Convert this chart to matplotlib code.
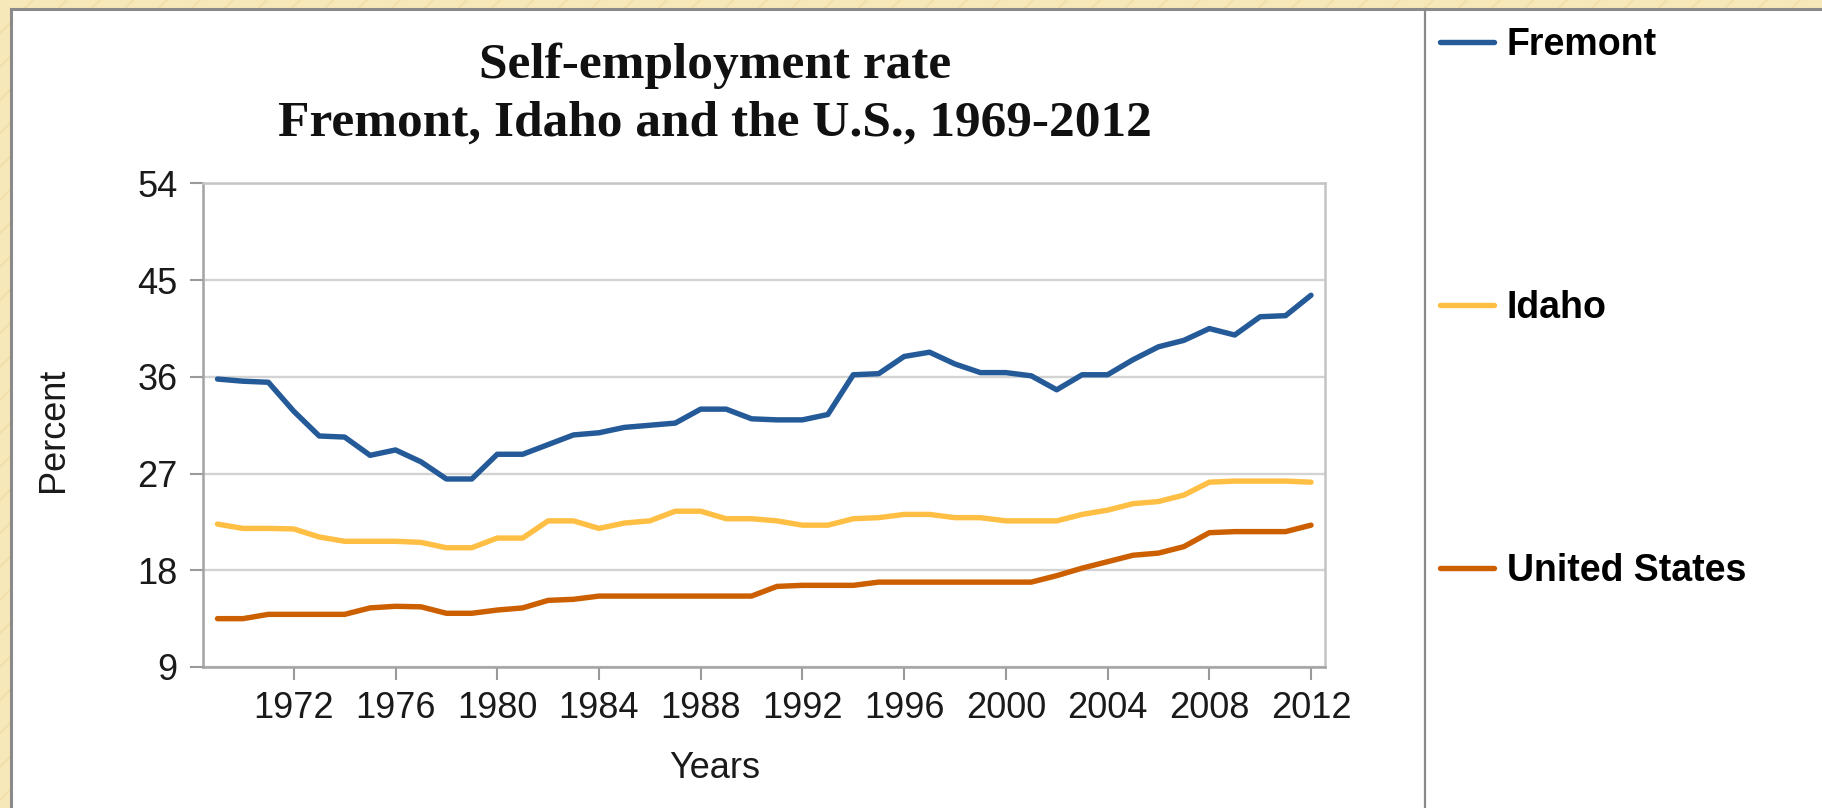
#!/usr/bin/python
# -*- coding: utf-8 -*-
# Self-employment rate, Fremont, Idaho and the U.S., 1969-2012

import numpy as np
import matplotlib as mpl
mpl.use('Agg')
from matplotlib import pyplot as plt
from matplotlib.patches import Rectangle
from matplotlib.lines import Line2D

# data (percent)
years = list(range(1969, 2013))

fremont = [35.8, 35.6, 35.5, 32.8, 30.5, 30.4, 28.7, 29.2, 28.1, 26.5,
           26.5, 28.8, 28.8, 29.7, 30.6, 30.8, 31.3, 31.5, 31.7, 33.0,
           33.0, 32.1, 32.0, 32.0, 32.5, 36.2, 36.3, 37.9, 38.3, 37.2,
           36.4, 36.4, 36.1, 34.8, 36.2, 36.2, 37.6, 38.8, 39.4, 40.5,
           39.9, 41.6, 41.7, 43.6]

idaho = [22.3, 21.9, 21.9, 21.85, 21.1, 20.7, 20.7, 20.7, 20.6, 20.1,
         20.1, 21.0, 21.0, 22.6, 22.6, 21.9, 22.4, 22.6, 23.5, 23.5,
         22.8, 22.8, 22.6, 22.2, 22.2, 22.8, 22.9, 23.2, 23.2, 22.9,
         22.9, 22.6, 22.6, 22.6, 23.2, 23.6, 24.2, 24.4, 25.0, 26.2,
         26.3, 26.3, 26.3, 26.2]

united_states = [13.5, 13.5, 13.9, 13.9, 13.9, 13.9, 14.5, 14.65, 14.6, 14.0,
                 14.0, 14.3, 14.5, 15.2, 15.3, 15.6, 15.6, 15.6, 15.6, 15.6,
                 15.6, 15.6, 16.5, 16.6, 16.6, 16.6, 16.9, 16.9, 16.9, 16.9,
                 16.9, 16.9, 16.9, 17.5, 18.2, 18.8, 19.4, 19.6, 20.2, 21.5,
                 21.6, 21.6, 21.6, 22.2]

series_names = ['Fremont', 'Idaho', 'United States']
series_colors = ['#245a98', '#ffbf45', '#cc5f00']

xticks = list(range(1972, 2013, 4))
yticks = [9, 18, 27, 36, 45, 54]

title_lines = ['Self-employment rate', 'Fremont, Idaho and the U.S., 1969-2012']

# figure geometry in pixels
W, H = 1822, 808
DPI = 100

f = plt.figure(figsize = (W / DPI, H / DPI), dpi = DPI)
f.patch.set_facecolor('#f7e8ba')

# patterned slide background
plt.rcParams['hatch.linewidth'] = 1.5
bg = Rectangle((0, 0), 1, 1, transform = f.transFigure,
               facecolor = '#f7e8ba', edgecolor = '#f1dfa9', hatch = '/',
               lw = 0, zorder = -3)
f.patches.append(bg)

# white slide panel with gray frame on the left and top
panel = Rectangle((12 / W, 0), 1 - 12 / W, 1 - 10 / H, transform = f.transFigure,
                  facecolor = 'white', edgecolor = 'none', zorder = -2)
f.patches.append(panel)
f.lines.append(Line2D([11 / W, 11 / W], [0, 1 - 9 / H], transform = f.transFigure,
                      color = '#8a8a8a', lw = 2.2, zorder = -1))
f.lines.append(Line2D([11 / W, 1], [1 - 9 / H, 1 - 9 / H], transform = f.transFigure,
                      color = '#8a8a8a', lw = 2.2, zorder = -1))

# separator between chart and legend
f.lines.append(Line2D([1425 / W, 1425 / W], [0, 1 - 9 / H], transform = f.transFigure,
                      color = '#8a8a8a', lw = 1.6, zorder = -1))

# axes
ax_left, ax_right = 203, 1325
ax_top, ax_bottom = 183.5, 667
ax1 = f.add_axes([ax_left / W, 1 - ax_bottom / H,
                  (ax_right - ax_left) / W, (ax_bottom - ax_top) / H])

for name, vals, col in zip(series_names, [fremont, idaho, united_states], series_colors):
    ax1.plot(years, vals, color = col, lw = 3.9, label = name,
             solid_joinstyle = 'round', solid_capstyle = 'round', zorder = 3)

ax1.set_xlim(1968.43, 2012.55)
ax1.set_ylim(9, 54)
ax1.set_xticks(xticks)
ax1.set_yticks(yticks)

tickfont = {'family': 'Liberation Sans', 'size': 26}
ax1.set_xticklabels([str(v) for v in xticks], fontdict = tickfont)
ax1.set_yticklabels([str(v) for v in yticks], fontdict = tickfont)
ax1.tick_params(axis = 'both', direction = 'out', length = 9.4, width = 1.5,
                color = '#9a9a9a', labelcolor = '#1a1a1a')
ax1.tick_params(axis = 'y', pad = 9)
ax1.tick_params(axis = 'x', pad = 8)

ax1.grid(axis = 'y', color = '#d3d3d3', lw = 1.7, zorder = 1)
ax1.set_axisbelow(True)

for side in ['left', 'bottom']:
    ax1.spines[side].set_color('#a3a3a3')
    ax1.spines[side].set_linewidth(1.8)
for side in ['top', 'right']:
    ax1.spines[side].set_color('#c4c4c4')
    ax1.spines[side].set_linewidth(1.8)

# axis labels
ax1.set_xlabel('Years', fontdict = tickfont, color = '#1a1a1a')
ax1.xaxis.set_label_coords((715 - ax_left) / (ax_right - ax_left),
                           (ax_bottom - 769) / (ax_bottom - ax_top))
ax1.xaxis.label.set_va('center')
ax1.set_ylabel('Percent', fontdict = tickfont, color = '#1a1a1a')
ax1.yaxis.set_label_coords((54 - ax_left) / (ax_right - ax_left),
                           (ax_bottom - 430) / (ax_bottom - ax_top))
ax1.yaxis.label.set_va('center')

# title
for txt, yc in zip(title_lines, [66, 124]):
    f.text(715 / W, 1 - yc / H, txt, ha = 'center', va = 'center',
           family = 'Liberation Serif', weight = 'bold', size = 37, color = '#111111')

# legend
handles, labels = ax1.get_legend_handles_labels()
leg = f.legend(handles, labels, loc = 'upper left',
               bbox_to_anchor = (1440 / W, 1 - 27 / H),
               prop = {'family': 'Liberation Sans', 'weight': 'bold', 'size': 27},
               frameon = False, borderpad = 0, borderaxespad = 0,
               handlelength = 1.44, handletextpad = 0.34, labelspacing = 6.05)

f.savefig('out.png', dpi = DPI, facecolor = f.get_facecolor())
plt.close()
